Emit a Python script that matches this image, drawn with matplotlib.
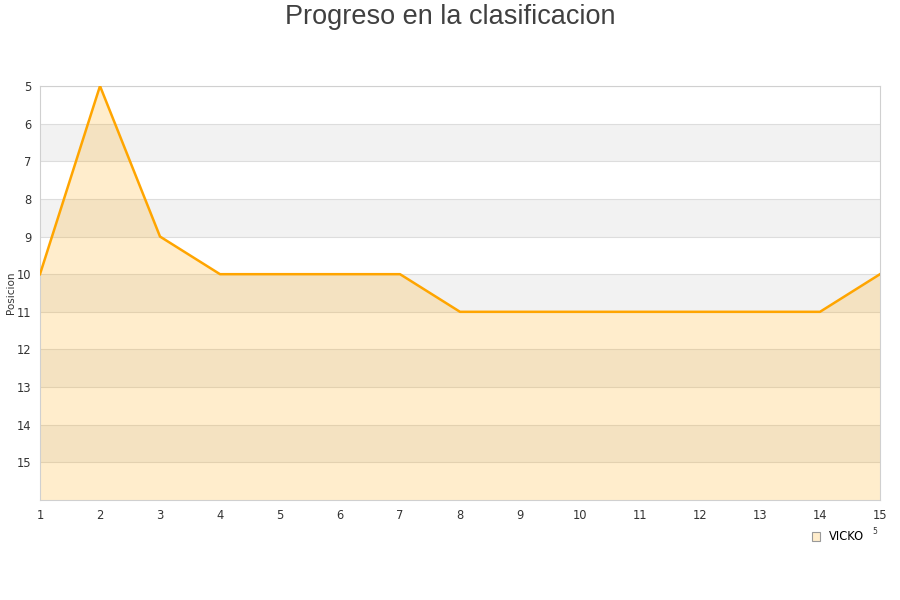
import matplotlib
matplotlib.use("Agg")
import matplotlib.pyplot as plt
from matplotlib.patches import Patch

jornadas = list(range(1, 16))
posiciones = [10, 5, 9, 10, 10, 10, 10, 11, 11, 11, 11, 11, 11, 11, 10]
y_ticks = list(range(5, 16))
serie = "VICKO"

fig = plt.figure(figsize=(9, 6), dpi=100)
ax = fig.add_axes([40 / 900, 1 - 500 / 600, 840 / 900, 414 / 600])

y_top, y_bottom = 5, 16
ax.set_xlim(1, 15)
ax.set_ylim(y_bottom, y_top)

# alternating horizontal bands
for k in range(6, 16, 2):
    ax.axhspan(k, k + 1, color="#f2f2f2", zorder=0, lw=0)
for k in y_ticks:
    ax.axhline(k, color="#dddddd", lw=0.8, zorder=1)

ax.fill_between(jornadas, posiciones, y_bottom, color="#ffa500", alpha=0.2,
                lw=0, zorder=2)
ax.plot(jornadas, posiciones, color="#ffa500", lw=1.8, zorder=3)

ax.set_xticks(jornadas)
ax.set_yticks(y_ticks)
ax.tick_params(axis="both", length=0, labelsize=8.3, colors="#333333")
ax.tick_params(axis="x", pad=6.5)
ax.tick_params(axis="y", pad=6)
for s in ax.spines.values():
    s.set_color("#d0d0d0")
    s.set_linewidth(0.8)

ax.set_ylabel("Posicion", fontsize=7.5, color="#333333")
ax.yaxis.set_label_coords(-0.029, 0.5)

fig.text(0.5, 1 - 17 / 600, "Progreso en la clasificacion", ha="center",
         va="center", fontsize=19.5, color="#404040", family="Liberation Sans")

handle = Patch(facecolor="#ffedcc", edgecolor="#999999", lw=0.8)
fig.legend([handle], [serie], loc="center", bbox_to_anchor=(838 / 900, 1 - 537 / 600),
           frameon=False, fontsize=8.3, handlelength=0.7, handleheight=0.7,
           handletextpad=0.8, borderpad=0)
fig.text(875 / 900, 1 - 531 / 600, "5", ha="center", va="center", fontsize=5.5,
         color="#333333")

fig.savefig("out.png", dpi=100)
